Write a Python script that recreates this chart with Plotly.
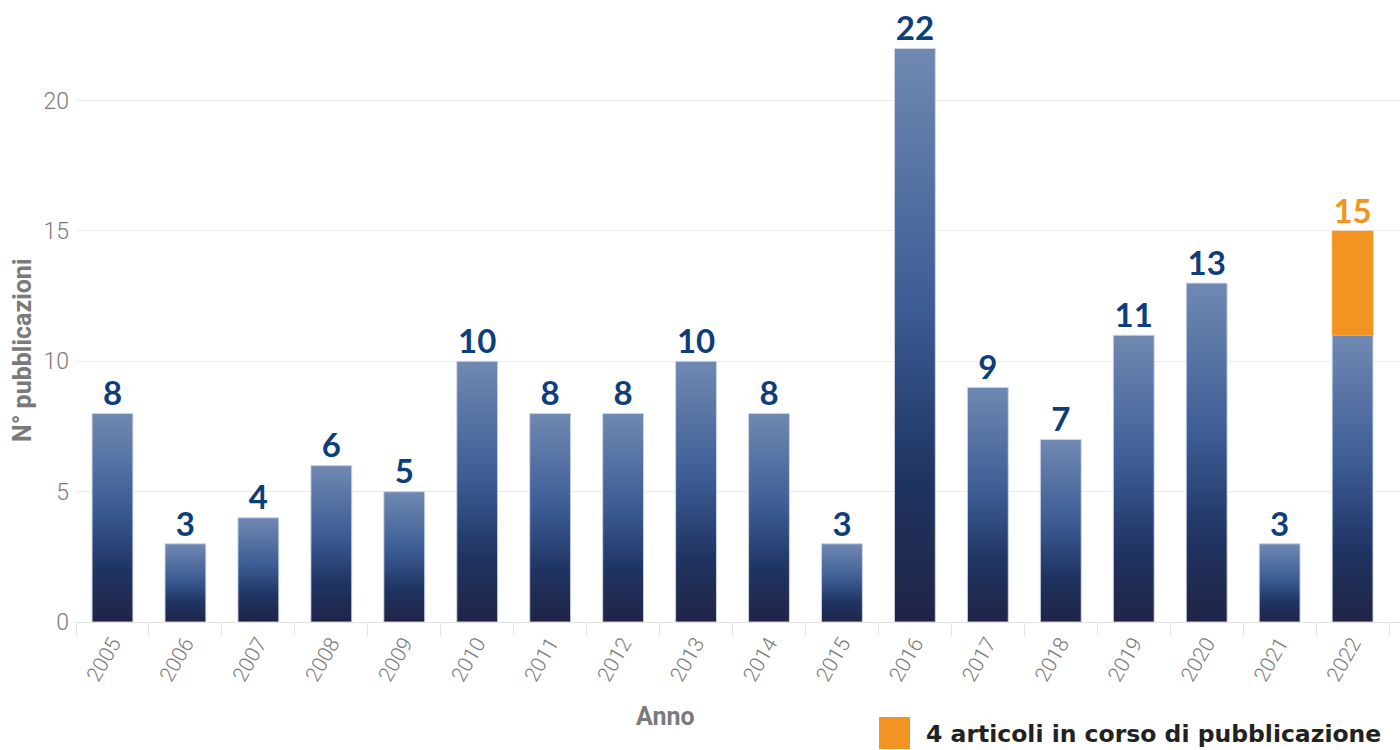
import plotly.graph_objects as go

# Publications per year
years = [str(y) for y in range(2005, 2023)]
published = [8, 3, 4, 6, 5, 10, 8, 8, 10, 8, 3, 22, 9, 7, 11, 13, 3, 11]
in_press = [0] * 17 + [4]
legend_text = "4 articoli in corso di pubblicazione"

BAR_W = 0.56
NAVY_SCALE = [[0.0, "#1f2446"], [0.25, "#1f3462"], [0.55, "#3c5c94"], [1.0, "#7089b2"]]
ORANGE = "#f39422"
LABEL_BLUE = "#0d3d7a"
GREY = "#7a7a7a"

W, H = 1400, 750
L, R, T, B = 76, 0, 12, 128

fig = go.Figure()


def rect(i, y0, y1):
    x0, x1 = i - BAR_W / 2, i + BAR_W / 2
    return [x0, x1, x1, x0, x0], [y0, y0, y1, y1, y0]


# gradient-filled bars for published articles
for i, v in enumerate(published):
    xs, ys = rect(i, 0, v)
    fig.add_trace(go.Scatter(
        x=xs, y=ys, mode="lines", fill="toself",
        fillgradient=dict(type="vertical", colorscale=NAVY_SCALE),
        line=dict(width=1, color="rgba(205,214,230,0.9)"),
        hoverinfo="skip", showlegend=False,
    ))

# articles still in press, stacked on top
for i, (v, p) in enumerate(zip(published, in_press)):
    if p > 0:
        xs, ys = rect(i, v, v + p)
        fig.add_trace(go.Scatter(
            x=xs, y=ys, mode="lines", fill="toself", fillcolor=ORANGE,
            line=dict(width=0.5, color=ORANGE),
            hoverinfo="skip", showlegend=False,
        ))

# value labels above each bar
totals = [v + p for v, p in zip(published, in_press)]
label_colors = [ORANGE if p > 0 else LABEL_BLUE for p in in_press]
fig.add_trace(go.Scatter(
    x=list(range(len(years))), y=totals, mode="text",
    text=[str(t) for t in totals], textposition="top center",
    textfont=dict(family="Lato", size=33, color=label_colors, weight="bold"),
    cliponaxis=False, hoverinfo="skip", showlegend=False,
))


def px_to_paper(x, y):
    return (x - L) / (W - L - R), (H - B - y) / (H - T - B)


def pannot(text, x, y, font, **kw):
    px, py = px_to_paper(x, y)
    return dict(text=text, x=px, y=py, xref="paper", yref="paper",
                showarrow=False, font=font, **kw)


lx0, ly0 = px_to_paper(879, 749)
lx1, ly1 = px_to_paper(910, 717)

fig.update_layout(
    width=W, height=H,
    margin=dict(l=L, r=R, t=T, b=B),
    plot_bgcolor="white", paper_bgcolor="white",
    showlegend=False,
    xaxis=dict(
        range=[-0.5, 17.65],
        tickmode="array", tickvals=list(range(len(years))), ticktext=years,
        tickangle=-60, ticks="", showgrid=False, zeroline=False,
        tickfont=dict(family="Roboto", size=21, color=GREY, weight=300),
        showline=True, linecolor="#e3e3e3", linewidth=1,
        minor=dict(tickmode="linear", tick0=-0.5, dtick=1, ticks="outside",
                   ticklen=13, tickcolor="#e3e3e3", tickwidth=1, showgrid=False),
    ),
    yaxis=dict(
        range=[0, 23.4], tickvals=[0, 5, 10, 15, 20],
        showgrid=True, gridcolor="#ececec", gridwidth=1, zeroline=False,
        ticks="", ticklabelstandoff=6,
        tickfont=dict(family="Roboto", size=23, color=GREY, weight=300),
    ),
    annotations=[
        pannot("Anno", 665, 716,
               dict(family="Roboto", size=25, color=GREY, weight="bold"),
               xanchor="center", yanchor="middle"),
        pannot("N° pubblicazioni", 22, 350,
               dict(family="Roboto", size=25, color=GREY, weight="bold"),
               xanchor="center", yanchor="middle", textangle=-90),
        pannot(legend_text, 924, 734,
               dict(family="DejaVu Sans", size=23.5, color="#222222", weight="bold"),
               xanchor="left", yanchor="middle"),
    ],
    shapes=[
        dict(type="rect", xref="paper", yref="paper", x0=lx0, x1=lx1, y0=ly0, y1=ly1,
             fillcolor=ORANGE, line=dict(width=0)),
    ],
)

fig.write_html("out.html")
